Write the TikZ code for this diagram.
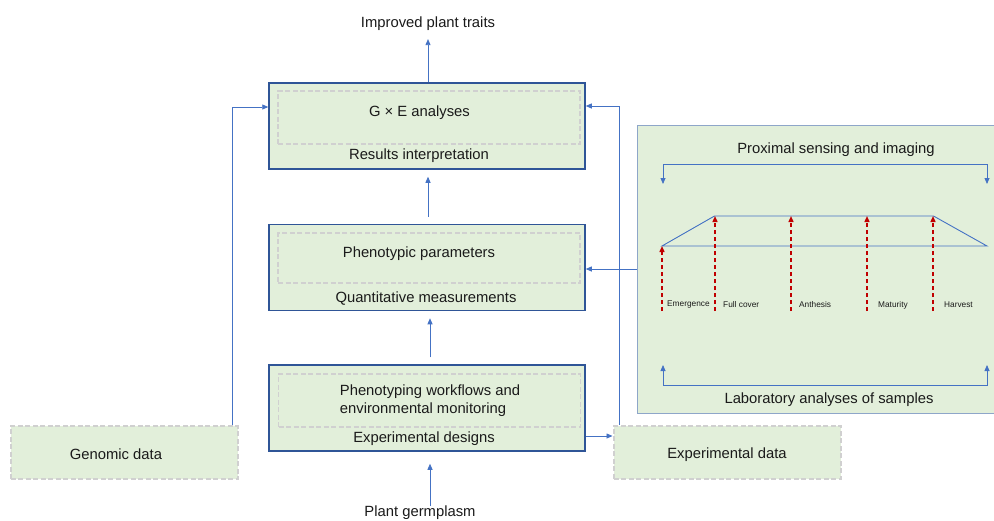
\documentclass[tikz,border=0pt]{standalone}
\usepackage{fontspec}
\setmainfont{Liberation Sans}
\usetikzlibrary{arrows.meta,calc}
\definecolor{boxfill}{HTML}{E2EFDA}
\definecolor{boxline}{HTML}{2F5597}
\definecolor{arrblue}{HTML}{4472C4}
\definecolor{dashgray}{HTML}{D0D0D0}
\definecolor{bigline}{HTML}{8EA6C9}
\definecolor{redarr}{HTML}{C00000}
\definecolor{txtc}{HTML}{1A1A1A}
\begin{document}
\begin{tikzpicture}[x=1pt,y=-1pt,
 outerbox/.style={draw=boxline,line width=1.5pt,fill=boxfill,minimum width=316pt,minimum height=86pt,inner sep=0pt},
 innerbox/.style={draw=dashgray,line width=1.5pt,dash pattern=on 5pt off 2.5pt,minimum width=302pt,inner sep=0pt},
 databox/.style={draw=dashgray,line width=2pt,dash pattern=on 5pt off 2.5pt,fill=boxfill,minimum width=227pt,minimum height=53pt,inner sep=0pt},
 lbl/.style={text=txtc,font=\fontsize{14.8}{17.8}\selectfont,inner sep=0pt},
 small/.style={text=txtc,font=\fontsize{8.3}{10}\selectfont,inner sep=0pt,anchor=west},
 arr/.style={draw=arrblue,line width=0.8pt,-{Triangle[length=6pt,width=5pt]}},
 both/.style={draw=arrblue,line width=0.8pt,{Triangle[length=6pt,width=5pt]}-{Triangle[length=6pt,width=5pt]}},
 redarrow/.style={draw=redarr,line width=1.4pt,dash pattern=on 4.5pt off 2.5pt,-{Triangle[length=6pt,width=5pt]}},
 plainline/.style={draw=arrblue,line width=0.9pt}
]
\useasboundingbox (0,0) rectangle (994,520);
\fill[white] (0,0) rectangle (994,520);

% big right panel
\node[draw=bigline,fill=boxfill,line width=1pt,minimum width=357pt,minimum height=288pt,inner sep=0pt] (big) at (815.5,269) {};

% stacked boxes
\node[outerbox] (b1) at (427,126) {};
\node[innerbox,minimum height=53pt] (ib1) at (429,117.5) {};
\node[lbl] (ge) at (419.5,113) {G × E analyses};
\node[lbl] (ri) at (419,155.5) {Results interpretation};

\node[outerbox] (b2) at (427,267.5) {};
\node[innerbox,minimum height=50pt] (ib2) at (429,258) {};
\node[lbl] (pp) at (419,254) {Phenotypic parameters};
\node[lbl] (qm) at (426,299) {Quantitative measurements};

\node[outerbox] (b3) at (427,408) {};
\node[innerbox,minimum height=53pt] (ib3) at (429.5,400.5) {};
\node[lbl,align=left] (pw) at (430,400.5) {Phenotyping workflows and\\environmental monitoring};
\node[lbl] (ed) at (424,438.5) {Experimental designs};

% data boxes
\node[databox] (gen) at (124,452.5) {};
\node[lbl] (gent) at (116,454.5) {Genomic data};
\node[databox] (exp) at (727,452) {};
\node[lbl] (expt) at (727,454.5) {Experimental data};

% outer labels
\node[lbl] (top) at (428,24) {Improved plant traits};
\node[lbl] (germ) at (420,513) {Plant germplasm};

% vertical connectors
\draw[arr,shorten >=8pt] (top.south |- b1.north) -- (top.south);
\draw[arr,shorten <=7pt,shorten >=7pt] ([xshift=1pt]b2.north) -- ([xshift=1pt]b1.south);
\draw[arr,shorten <=7pt,shorten >=7pt] ([xshift=3pt]b3.north) -- ([xshift=3pt]b2.south);
\draw[arr,shorten >=12pt] ([xshift=3pt]germ.north -| b3.south) -- ([xshift=3pt]b3.south);

% side connectors
\draw[arr] ([xshift=-6pt]gen.north east) |- ([yshift=19pt]b1.west);
\draw[arr] ([xshift=7pt]exp.north west) |- ([yshift=20pt]b1.east);
\draw[arr] ([yshift=-28pt]b3.east) -- ([yshift=-28pt]b3.east -| exp.west);
\draw[arr] (big.west) -- (big.west -| b2.east);

% panel contents
\node[lbl] (prox) at (836,150) {Proximal sensing and imaging};
\node[lbl] (lab) at (829,399.5) {Laboratory analyses of samples};

\coordinate (tla) at (663,184);
\coordinate (tr) at (987,164.5);
\coordinate (tra) at (987,184);
\draw[both] (tla) |- (tr) -- (tra);

\coordinate (bla) at (663,365);
\coordinate (br) at (987,385.5);
\coordinate (bra) at (987,365);
\draw[both] (bla) |- (br) -- (bra);

\coordinate (p1) at (662,246);
\coordinate (p2) at (714.5,216);
\coordinate (p3) at (933.5,216);
\coordinate (p4) at (987,246);
\draw[plainline] (p1) -- (p2) -- (p3) -- (p4) -- cycle;

\coordinate (e1) at (662,311);
\coordinate (e2) at (715,311);
\coordinate (e3) at (791,311);
\coordinate (e4) at (867,311);
\coordinate (e5) at (933,311);
\draw[redarrow] (e1) -- (p1);
\draw[redarrow] (e2) -- (e2 |- p2);
\draw[redarrow] (e3) -- (e3 |- p2);
\draw[redarrow] (e4) -- (e4 |- p2);
\draw[redarrow] (e5) -- (e5 |- p2);

\node[small] (l1) at (667,305) {Emergence};
\node[small] (l2) at (723,305) {Full cover};
\node[small] (l3) at (799,305) {Anthesis};
\node[small] (l4) at (878,305) {Maturity};
\node[small] (l5) at (944,305) {Harvest};
\end{tikzpicture}
\end{document}
